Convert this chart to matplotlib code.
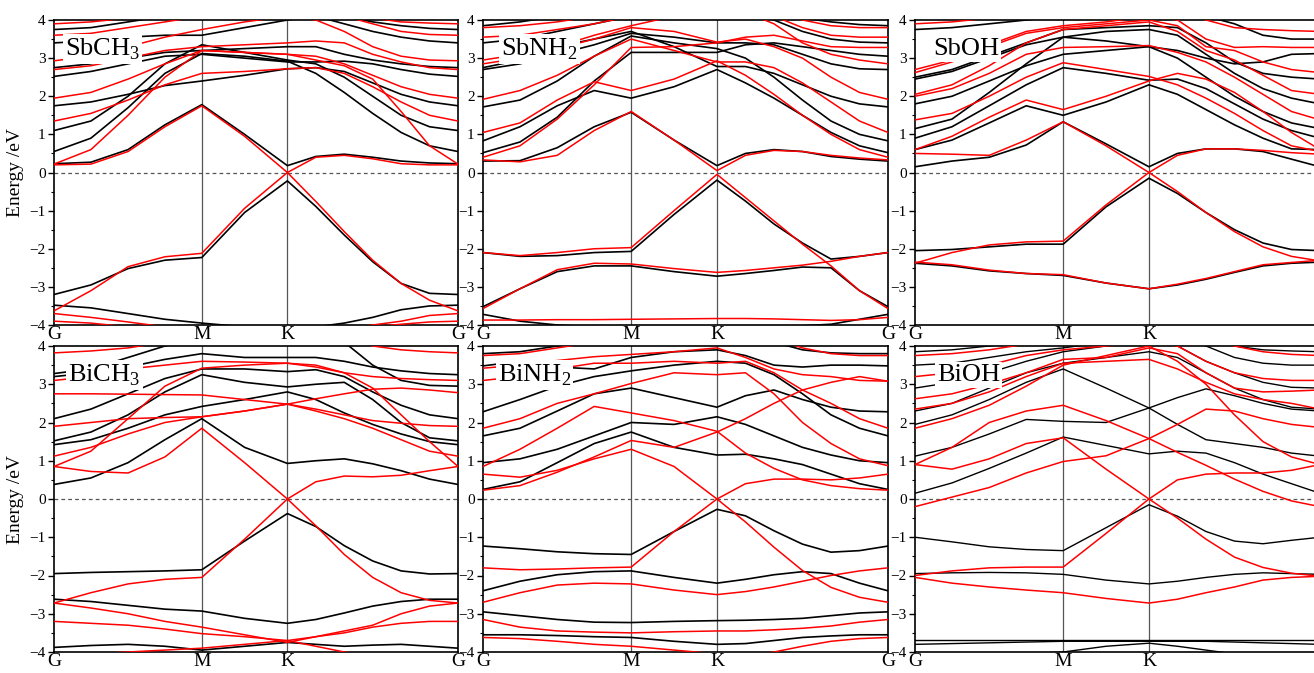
import matplotlib
matplotlib.use('Agg')
import matplotlib.pyplot as plt
from matplotlib.ticker import MultipleLocator

plt.rcParams['font.family'] = ['Liberation Serif', 'DejaVu Serif']
plt.rcParams['mathtext.fontset'] = 'custom'
plt.rcParams['mathtext.rm'] = 'Liberation Serif'

# k-path G-M-K-G (hexagonal BZ, fractional path length); 13 sample points
kpath = [0.0, 0.144, 0.289, 0.433, 0.577, 0.744, 0.911,
         1.022, 1.133, 1.244, 1.355, 1.466, 1.577]
kticks = [0.0, 0.577, 0.911, 1.577]
klabels = ['G', 'M', 'K', 'G']

# ---------------- SbCH3 ----------------
sbch3_black = [
    [-3.48, -3.55, -3.7, -3.85, -3.95, -4.05, -4.1, -4.05, -3.95, -3.8, -3.6, -3.5, -3.48],
    [-3.2, -2.95, -2.52, -2.3, -2.23, -1.05, -0.22, -0.89, -1.64, -2.34, -2.91, -3.17, -3.2],
    [0.23, 0.27, 0.6, 1.25, 1.78, 1.0, 0.18, 0.42, 0.48, 0.4, 0.3, 0.25, 0.23],
    [0.55, 0.9, 1.7, 2.6, 3.12, 3.05, 2.92, 2.6, 2.1, 1.55, 1.05, 0.7, 0.55],
    [1.1, 1.35, 2.0, 2.85, 3.35, 3.15, 2.95, 2.85, 2.5, 2.0, 1.5, 1.2, 1.1],
    [1.75, 1.85, 2.05, 2.28, 2.4, 2.55, 2.72, 2.75, 2.65, 2.35, 2.05, 1.85, 1.75],
    [2.52, 2.65, 2.85, 3.05, 3.1, 3.0, 2.9, 2.9, 2.92, 2.85, 2.7, 2.58, 2.52],
    [2.75, 2.85, 3.0, 3.15, 3.2, 3.25, 3.3, 3.3, 3.1, 2.95, 2.85, 2.78, 2.75],
    [3.4, 3.45, 3.55, 3.6, 3.6, 3.8, 4.0, 4.1, 3.9, 3.7, 3.55, 3.45, 3.4],
    [3.75, 3.8, 3.95, 4.1, 4.2, 4.2, 4.2, 4.2, 4.1, 3.95, 3.85, 3.78, 3.75],
]
sbch3_red = [
    [-3.7, -3.8, -3.92, -4.05, -4.15, -4.2, -4.2, -4.2, -4.1, -4.0, -3.9, -3.75, -3.7],
    [-3.9, -3.95, -4.05, -4.1, -4.15, -4.2, -4.2, -4.2, -4.15, -4.05, -3.98, -3.92, -3.9],
    [-3.63, -3.1, -2.47, -2.21, -2.12, -0.94, 0.0, -0.76, -1.55, -2.3, -2.91, -3.35, -3.63],
    [0.2, 0.22, 0.55, 1.2, 1.75, 0.95, 0.0, 0.4, 0.45, 0.36, 0.23, 0.2, 0.2],
    [0.22, 0.6, 1.5, 2.5, 3.2, 3.15, 3.1, 2.95, 2.8, 2.45, 1.6, 0.7, 0.22],
    [1.35, 1.55, 1.9, 2.3, 2.6, 2.65, 2.72, 2.75, 2.6, 2.25, 1.85, 1.5, 1.35],
    [1.95, 2.1, 2.45, 2.85, 3.2, 3.15, 3.1, 3.05, 2.85, 2.55, 2.25, 2.05, 1.95],
    [2.7, 2.8, 3.0, 3.2, 3.3, 3.35, 3.4, 3.45, 3.4, 3.1, 2.9, 2.75, 2.7],
    [2.93, 3.05, 3.3, 3.55, 3.75, 3.95, 4.1, 4.0, 3.7, 3.3, 3.05, 2.95, 2.93],
    [3.6, 3.65, 3.8, 3.95, 4.1, 4.2, 4.2, 4.2, 4.1, 3.9, 3.7, 3.62, 3.6],
    [3.9, 3.95, 4.05, 4.2, 4.3, 4.3, 4.3, 4.3, 4.2, 4.05, 3.95, 3.92, 3.9],
]

# ---------------- SbNH2 ----------------
sbnh2_black = [
    [-3.72, -3.9, -4.0, -4.05, -4.05, -4.05, -4.05, -4.05, -4.05, -4.02, -3.98, -3.85, -3.72],
    [-3.52, -3.05, -2.6, -2.45, -2.45, -2.6, -2.72, -2.65, -2.57, -2.48, -2.5, -3.1, -3.52],
    [-2.1, -2.2, -2.18, -2.1, -2.07, -1.1, -0.2, -0.75, -1.35, -1.85, -2.27, -2.2, -2.1],
    [0.3, 0.31, 0.65, 1.2, 1.58, 0.85, 0.18, 0.5, 0.6, 0.55, 0.42, 0.35, 0.3],
    [0.52, 0.8, 1.45, 2.4, 3.15, 3.15, 3.15, 3.35, 3.4, 3.3, 3.2, 3.1, 3.05],
    [0.83, 1.2, 1.75, 2.15, 1.95, 2.25, 2.7, 2.35, 1.95, 1.5, 1.05, 0.7, 0.52],
    [1.72, 1.9, 2.4, 3.05, 3.58, 3.4, 3.25, 3.0, 2.5, 1.9, 1.35, 1.0, 0.83],
    [2.7, 2.85, 3.1, 3.35, 3.65, 3.55, 3.4, 3.4, 3.35, 3.1, 2.85, 2.72, 2.7],
    [2.75, 2.95, 3.3, 3.5, 3.7, 3.3, 2.78, 2.78, 2.6, 2.3, 2.0, 1.8, 1.72],
    [3.4, 3.5, 3.7, 3.9, 4.1, 4.2, 4.2, 4.2, 4.0, 3.7, 3.5, 3.42, 3.4],
    [3.85, 3.95, 4.1, 4.2, 4.3, 4.3, 4.3, 4.3, 4.2, 4.05, 3.95, 3.88, 3.85],
]
sbnh2_red = [
    [-3.87, -3.87, -3.86, -3.86, -3.85, -3.84, -3.83, -3.83, -3.84, -3.86, -3.88, -3.86, -3.8],
    [-3.57, -3.05, -2.55, -2.38, -2.4, -2.52, -2.62, -2.57, -2.5, -2.43, -2.33, -2.2, -2.1],
    [-2.1, -2.18, -2.1, -2.0, -1.97, -1.0, -0.05, -0.66, -1.27, -1.88, -2.45, -3.1, -3.57],
    [0.33, 0.28, 0.45, 1.1, 1.6, 0.85, 0.05, 0.45, 0.58, 0.55, 0.45, 0.38, 0.33],
    [0.4, 0.7, 1.4, 2.3, 3.28, 3.3, 3.4, 3.55, 3.6, 3.45, 3.3, 3.28, 3.28],
    [1.05, 1.3, 1.9, 2.38, 2.15, 2.45, 2.93, 2.55, 2.05, 1.5, 1.0, 0.6, 0.4],
    [1.92, 2.15, 2.55, 3.05, 3.5, 3.2, 2.9, 2.9, 2.75, 2.35, 1.85, 1.35, 1.05],
    [2.85, 3.0, 3.25, 3.5, 3.8, 3.7, 3.42, 3.5, 3.3, 3.0, 2.5, 2.1, 1.92],
    [2.95, 3.1, 3.3, 3.6, 3.85, 4.1, 4.2, 4.2, 3.9, 3.4, 3.1, 2.95, 2.85],
    [3.55, 3.6, 3.75, 3.9, 4.1, 4.2, 4.2, 4.2, 4.1, 3.8, 3.6, 3.55, 3.55],
    [3.8, 3.85, 3.95, 4.1, 4.2, 4.3, 4.3, 4.3, 4.2, 4.0, 3.85, 3.8, 3.8],
]

# ---------------- SbOH ----------------
sboh_black = [
    [-2.38, -2.45, -2.58, -2.65, -2.7, -2.9, -3.05, -2.95, -2.8, -2.62, -2.45, -2.38, -2.35],
    [-2.05, -2.02, -1.95, -1.88, -1.88, -0.9, -0.15, -0.55, -1.05, -1.5, -1.85, -2.02, -2.05],
    [0.15, 0.3, 0.4, 0.72, 1.33, 0.75, 0.15, 0.5, 0.62, 0.62, 0.55, 0.35, 0.15],
    [0.6, 0.85, 1.3, 1.75, 1.5, 1.85, 2.3, 2.05, 1.65, 1.25, 0.9, 0.62, 0.6],
    [0.9, 1.2, 1.75, 2.3, 2.75, 2.6, 2.42, 2.45, 2.2, 1.8, 1.4, 1.1, 0.9],
    [1.15, 1.4, 2.1, 2.85, 3.55, 3.45, 3.3, 3.2, 3.0, 2.85, 2.9, 3.1, 3.12],
    [1.8, 2.0, 2.4, 2.8, 3.1, 3.2, 3.3, 3.0, 2.5, 2.0, 1.6, 1.3, 1.15],
    [2.45, 2.65, 3.0, 3.35, 3.55, 3.7, 3.75, 3.6, 3.1, 2.6, 2.2, 1.95, 1.8],
    [2.5, 2.7, 3.05, 3.4, 3.75, 3.8, 3.85, 3.8, 3.4, 2.9, 2.6, 2.5, 2.45],
    [3.75, 3.8, 3.9, 4.0, 4.1, 4.2, 4.2, 4.2, 4.1, 3.9, 3.6, 3.5, 3.5],
]
sboh_red = [
    [-2.35, -2.42, -2.56, -2.65, -2.68, -2.9, -3.05, -2.93, -2.78, -2.6, -2.42, -2.36, -2.3],
    [-2.38, -2.1, -1.9, -1.82, -1.8, -0.85, 0.0, -0.5, -1.05, -1.55, -1.95, -2.2, -2.32],
    [0.5, 0.48, 0.45, 0.85, 1.33, 0.7, 0.0, 0.45, 0.62, 0.62, 0.58, 0.52, 0.48],
    [0.6, 0.95, 1.45, 1.9, 1.65, 2.0, 2.4, 2.6, 2.45, 2.1, 1.6, 1.05, 0.6],
    [1.38, 1.55, 2.0, 2.5, 2.88, 2.7, 2.52, 2.3, 1.95, 1.55, 1.1, 0.7, 0.55],
    [2.0, 2.2, 2.6, 3.1, 3.28, 3.3, 3.33, 3.15, 2.9, 2.5, 2.05, 1.6, 1.38],
    [2.05, 2.3, 2.8, 3.4, 3.75, 3.85, 3.95, 3.7, 3.2, 2.95, 2.55, 2.15, 2.05],
    [2.62, 2.9, 3.3, 3.65, 3.8, 3.9, 4.0, 3.85, 3.3, 3.2, 2.9, 2.7, 2.62],
    [2.7, 2.95, 3.35, 3.7, 3.85, 3.95, 4.1, 4.0, 3.5, 3.28, 3.3, 3.28, 3.28],
    [3.9, 3.95, 4.05, 4.15, 4.2, 4.2, 4.2, 4.2, 4.0, 3.8, 3.75, 3.72, 3.7],
]

# ---------------- BiCH3 ----------------
bich3_black = [
    [-3.88, -3.83, -3.8, -3.85, -3.95, -3.85, -3.75, -3.8, -3.85, -3.82, -3.8, -3.85, -3.9],
    [-2.62, -2.68, -2.78, -2.88, -2.93, -3.12, -3.25, -3.15, -2.98, -2.8, -2.68, -2.62, -2.62],
    [-1.95, -1.92, -1.9, -1.88, -1.85, -1.1, -0.38, -0.72, -1.22, -1.62, -1.88, -1.96, -1.95],
    [0.38, 0.55, 0.95, 1.55, 2.1, 1.35, 0.93, 1.0, 1.05, 0.92, 0.74, 0.52, 0.38],
    [1.42, 1.55, 1.85, 2.2, 2.42, 2.6, 2.8, 2.6, 2.25, 1.95, 1.7, 1.5, 1.42],
    [1.52, 1.75, 2.2, 2.8, 3.25, 3.05, 2.93, 3.0, 3.05, 2.6, 2.0, 1.6, 1.52],
    [2.1, 2.35, 2.75, 3.15, 3.4, 3.4, 3.33, 3.38, 3.2, 2.8, 2.45, 2.2, 2.1],
    [3.2, 3.3, 3.45, 3.65, 3.8, 3.7, 3.7, 3.7, 3.6, 3.45, 3.35, 3.28, 3.25],
    [3.28, 3.4, 3.7, 4.0, 4.2, 4.2, 4.2, 4.2, 4.1, 3.5, 3.1, 2.97, 2.95],
]
bich3_red = [
    [-4.1, -4.05, -4.0, -3.95, -3.9, -3.8, -3.7, -3.85, -4.0, -4.1, -4.2, -4.2, -4.2],
    [-2.72, -2.45, -2.22, -2.1, -2.05, -1.05, 0.0, -0.7, -1.45, -2.05, -2.45, -2.65, -2.72],
    [-2.72, -2.85, -3.0, -3.2, -3.35, -3.55, -3.75, -3.6, -3.45, -3.3, -3.0, -2.8, -2.72],
    [-3.2, -3.25, -3.3, -3.4, -3.52, -3.6, -3.7, -3.6, -3.5, -3.35, -3.25, -3.2, -3.2],
    [0.85, 0.72, 0.68, 1.1, 1.85, 0.95, 0.0, 0.45, 0.6, 0.58, 0.62, 0.74, 0.85],
    [0.85, 1.25, 2.1, 2.95, 3.42, 3.5, 3.55, 3.5, 3.3, 2.9, 2.2, 1.5, 0.85],
    [1.12, 1.35, 1.7, 2.0, 2.15, 2.3, 2.48, 2.62, 2.75, 2.87, 2.9, 2.85, 2.78],
    [2.75, 2.75, 2.74, 2.73, 2.72, 2.6, 2.48, 2.3, 2.1, 1.85, 1.55, 1.25, 1.12],
    [1.9, 2.0, 2.1, 2.13, 2.15, 2.3, 2.48, 2.35, 2.2, 2.05, 1.98, 1.92, 1.9],
    [3.1, 3.2, 3.4, 3.5, 3.6, 3.58, 3.55, 3.45, 3.3, 3.2, 3.15, 3.12, 3.1],
    [3.82, 3.87, 3.95, 4.1, 4.2, 4.3, 4.3, 4.3, 4.2, 4.0, 3.9, 3.85, 3.82],
]

# ---------------- BiNH2 ----------------
binh2_black = [
    [-3.55, -3.55, -3.57, -3.6, -3.62, -3.72, -3.8, -3.78, -3.7, -3.62, -3.58, -3.55, -3.55],
    [-2.95, -3.05, -3.15, -3.22, -3.23, -3.2, -3.18, -3.17, -3.15, -3.12, -3.05, -2.98, -2.95],
    [-2.4, -2.15, -1.98, -1.9, -1.88, -2.05, -2.2, -2.1, -1.98, -1.9, -1.95, -2.2, -2.4],
    [-1.23, -1.3, -1.38, -1.43, -1.45, -0.85, -0.27, -0.44, -0.83, -1.18, -1.39, -1.35, -1.23],
    [0.25, 0.45, 0.95, 1.45, 1.75, 1.35, 1.15, 1.17, 1.05, 0.9, 0.65, 0.4, 0.25],
    [0.95, 1.05, 1.3, 1.65, 2.0, 1.95, 2.15, 1.95, 1.65, 1.35, 1.15, 1.0, 0.95],
    [1.65, 1.85, 2.3, 2.75, 2.9, 2.65, 2.4, 2.7, 2.85, 2.6, 2.4, 2.3, 2.28],
    [2.28, 2.6, 2.95, 3.2, 3.35, 3.5, 3.6, 3.55, 3.25, 2.75, 2.2, 1.85, 1.65],
    [3.48, 3.6, 3.45, 3.4, 3.7, 3.85, 3.9, 3.75, 3.5, 3.45, 3.5, 3.5, 3.48],
    [3.8, 3.85, 4.0, 4.1, 4.2, 4.3, 4.3, 4.3, 4.1, 3.9, 3.82, 3.8, 3.8],
]
binh2_red = [
    [-3.62, -3.65, -3.72, -3.8, -3.85, -3.95, -4.05, -4.1, -4.0, -3.85, -3.72, -3.65, -3.62],
    [-3.15, -3.35, -3.45, -3.48, -3.5, -3.47, -3.45, -3.45, -3.42, -3.38, -3.32, -3.22, -3.15],
    [-2.7, -2.45, -2.25, -2.2, -2.22, -2.38, -2.5, -2.42, -2.3, -2.15, -2.0, -1.88, -1.8],
    [-1.8, -1.85, -1.83, -1.8, -1.78, -0.85, 0.0, -0.6, -1.26, -1.87, -2.31, -2.57, -2.7],
    [0.65, 0.57, 0.75, 1.05, 1.3, 0.85, 0.0, 0.4, 0.52, 0.52, 0.5, 0.55, 0.65],
    [0.23, 0.35, 0.7, 1.1, 1.53, 1.35, 1.75, 2.1, 2.5, 2.85, 3.05, 3.2, 3.08],
    [0.85, 1.3, 1.85, 2.42, 2.25, 2.05, 1.77, 1.2, 0.8, 0.5, 0.35, 0.27, 0.23],
    [1.85, 2.1, 2.5, 2.75, 3.02, 3.3, 3.25, 3.3, 2.75, 2.0, 1.45, 1.05, 0.87],
    [3.1, 3.2, 3.4, 3.55, 3.55, 3.6, 3.55, 3.6, 3.3, 2.85, 2.5, 2.1, 1.85],
    [3.42, 3.5, 3.62, 3.72, 3.78, 3.85, 3.95, 3.7, 3.4, 3.25, 3.2, 3.1, 3.08],
    [3.75, 3.8, 3.95, 4.1, 4.2, 4.3, 4.3, 4.3, 4.2, 3.95, 3.8, 3.75, 3.75],
]

# ---------------- BiOH ----------------
bioh_black = [
    [-3.68, -3.68, -3.68, -3.68, -3.68, -3.68, -3.68, -3.68, -3.68, -3.68, -3.68, -3.68, -3.68],
    [-3.8, -3.78, -3.76, -3.74, -3.72, -3.72, -3.72, -3.72, -3.72, -3.74, -3.76, -3.78, -3.8],
    [-4.2, -4.15, -4.1, -4.05, -4.0, -3.85, -3.77, -3.85, -3.95, -4.05, -4.15, -4.2, -4.2],
    [-1.95, -1.93, -1.92, -1.93, -1.97, -2.12, -2.22, -2.15, -2.05, -1.97, -1.93, -1.95, -1.97],
    [-1.0, -1.12, -1.25, -1.32, -1.35, -0.75, -0.15, -0.45, -0.85, -1.1, -1.17, -1.08, -1.0],
    [0.15, 0.42, 0.8, 1.2, 1.62, 1.4, 1.18, 1.25, 1.2, 0.95, 0.65, 0.4, 0.15],
    [1.12, 1.35, 1.7, 2.08, 2.03, 2.0, 2.38, 2.65, 2.88, 2.7, 2.5, 2.35, 2.3],
    [1.95, 2.2, 2.6, 3.05, 3.4, 2.9, 2.38, 1.95, 1.55, 1.45, 1.35, 1.2, 1.12],
    [2.3, 2.5, 2.9, 3.3, 3.55, 3.7, 3.85, 3.7, 3.3, 2.9, 2.6, 2.4, 2.35],
    [2.9, 3.05, 3.3, 3.6, 3.85, 4.0, 4.1, 4.0, 3.6, 3.3, 3.05, 2.92, 2.9],
    [3.5, 3.55, 3.7, 3.85, 3.95, 4.1, 4.2, 4.2, 4.0, 3.7, 3.55, 3.5, 3.5],
    [3.85, 3.9, 4.0, 4.1, 4.2, 4.3, 4.3, 4.3, 4.2, 4.0, 3.9, 3.87, 3.85],
]
bioh_red = [
    [-2.05, -2.2, -2.3, -2.38, -2.45, -2.6, -2.72, -2.62, -2.45, -2.3, -2.12, -2.05, -2.02],
    [-2.0, -1.88, -1.8, -1.78, -1.78, -0.9, 0.0, -0.5, -1.05, -1.52, -1.79, -1.94, -2.02],
    [-0.2, 0.05, 0.3, 0.68, 0.98, 1.13, 1.58, 1.95, 2.35, 2.3, 2.1, 1.95, 1.87],
    [0.9, 0.78, 1.05, 1.45, 1.6, 0.78, 0.0, 0.5, 0.65, 0.68, 0.68, 0.75, 0.9],
    [0.9, 1.35, 2.0, 2.3, 2.45, 2.05, 1.58, 1.22, 0.88, 0.52, 0.2, -0.05, -0.2],
    [1.85, 2.1, 2.45, 2.95, 3.5, 3.75, 4.0, 3.6, 3.0, 2.2, 1.5, 1.1, 0.9],
    [2.35, 2.5, 2.8, 3.2, 3.55, 3.6, 3.65, 3.4, 3.05, 2.75, 2.6, 2.5, 2.35],
    [2.62, 2.75, 3.0, 3.3, 3.65, 3.7, 3.95, 3.8, 3.3, 2.9, 2.8, 2.82, 2.85],
    [3.2, 3.3, 3.5, 3.75, 3.9, 4.0, 4.1, 4.0, 3.6, 3.3, 3.15, 3.1, 3.1],
    [3.75, 3.8, 3.9, 4.05, 4.2, 4.3, 4.3, 4.3, 4.2, 4.0, 3.85, 3.78, 3.75],
]

panels = [
    ('SbCH$_\\mathrm{3}$', sbch3_black, sbch3_red),
    ('SbNH$_\\mathrm{2}$', sbnh2_black, sbnh2_red),
    ('SbOH', sboh_black, sboh_red),
    ('BiCH$_\\mathrm{3}$', bich3_black, bich3_red),
    ('BiNH$_\\mathrm{2}$', binh2_black, binh2_red),
    ('BiOH', bioh_black, bioh_red),
]

W, H = 1314, 673
fig = plt.figure(figsize=(W / 100, H / 100), dpi=100)

# axes boxes in pixels: left, top, right, bottom
col_px = [(54, 458), (483, 888), (915, 1320)]
row_px = [(20, 325), (346, 652)]
label_x = [0.027, 0.045, 0.045, 0.035, 0.037, 0.054]

for i, (name, black, red) in enumerate(panels):
    r, c = divmod(i, 3)
    x0, x1 = col_px[c]
    y0, y1 = row_px[r]
    ax = fig.add_axes([x0 / W, 1 - y1 / H, (x1 - x0) / W, (y1 - y0) / H])

    lw_black = 1.0 if i == 5 else 1.2
    for band in black:
        ax.plot(kpath, band, color='black', lw=lw_black, zorder=2)
    for band in red:
        ax.plot(kpath, band, color='#ff0000', lw=1.1, zorder=3)

    for kx in kticks[1:3]:
        ax.axvline(kx, color='#555555', lw=0.9, zorder=1)
    ax.axhline(0, color='#555555', lw=0.9, ls=(0, (3, 2.5)), zorder=1)

    ax.set_xlim(kticks[0], kticks[-1])
    ax.set_ylim(-4, 4)
    ax.set_xticks(kticks)
    ax.set_xticklabels(klabels, fontsize=14)
    ax.tick_params(axis='x', length=0, pad=1)
    ax.yaxis.set_major_locator(MultipleLocator(1))
    ax.yaxis.set_minor_locator(MultipleLocator(0.5))
    ax.tick_params(axis='y', which='major', direction='out', length=4, width=1,
                   labelsize=11, pad=2)
    ax.tick_params(axis='y', which='minor', direction='out', length=2, width=0.8)
    for sp in ax.spines.values():
        sp.set_linewidth(1.2)

    if c == 0:
        ax.set_ylabel('Energy /eV', fontsize=14, labelpad=4)

    ax.text(label_x[i], 0.905, name, transform=ax.transAxes, fontsize=19,
            va='center', ha='left', zorder=5,
            bbox=dict(facecolor='white', edgecolor='none', pad=1.5))

fig.savefig('out.png', dpi=100)
